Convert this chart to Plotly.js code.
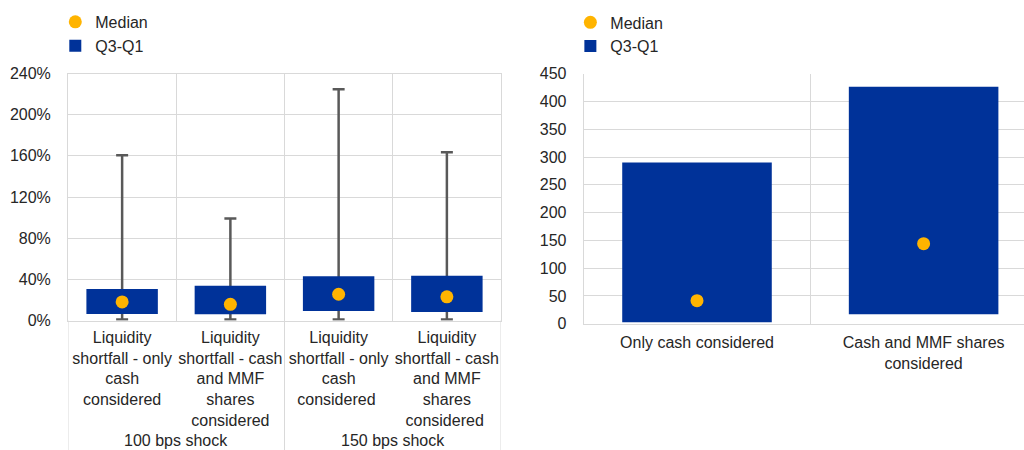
<!DOCTYPE html>
<html>
<head>
<meta charset="utf-8">
<script src="https://cdn.plot.ly/plotly-3.0.1.min.js"></script>
<style>html,body{margin:0;padding:0;background:#fff;}#chart{width:1024px;height:450px;}</style>
</head>
<body>
<div id="chart"></div>
<script>
// ---- Left chart data (percent) ----
var shockGroups = ['100 bps shock', '100 bps shock', '150 bps shock', '150 bps shock'];
var measureLabels = [
  'Liquidity<br>shortfall - only<br>cash<br>considered',
  'Liquidity<br>shortfall - cash<br>and MMF<br>shares<br>considered',
  'Liquidity<br>shortfall - only<br>cash<br>considered ',
  'Liquidity<br>shortfall - cash<br>and MMF<br>shares<br>considered '
];
var leftQ1 = [6.3, 6.0, 9.2, 8.3];
var leftQ3 = [30.6, 33.8, 43.0, 43.5];
var leftMedian = [18.0, 15.7, 25.5, 23.0];
var leftMin = [1.0, 1.0, 1.0, 1.0];
var leftMax = [160.5, 99.0, 224.6, 163.4];

// ---- Right chart data ----
var rightCategories = ['Only cash considered', 'Cash and MMF shares<br>considered'];
var rightQ1 = [2.5, 17.0];
var rightQ3 = [290.0, 426.6];
var rightMedian = [41.4, 144.0];

var BLUE = '#003299';
var ORANGE = '#FFB400';
var GRID = '#d9d9d9';
var FONT = 'Liberation Sans, Arial, sans-serif';
var TXT = '#262626';

var LEFT_BOTTOM = 1 - 320.5 / 450;

function diff(a, b) { return a.map(function (v, i) { return v - b[i]; }); }

// group spans from the group array
var groupSpans = [];
shockGroups.forEach(function (g, i) {
  var last = groupSpans[groupSpans.length - 1];
  if (last && last.name === g) { last.end = i; }
  else { groupSpans.push({name: g, start: i, end: i}); }
});

var annotations = groupSpans.map(function (s) {
  return {text: s.name, xref: 'x', yref: 'paper', x: (s.start + s.end) / 2, y: 0,
          xanchor: 'center', yanchor: 'bottom', showarrow: false, borderpad: 0,
          font: {size: 16, color: TXT, family: FONT}};
});

var dividerPos = [groupSpans[0].start - 0.5].concat(groupSpans.map(function (s) { return s.end + 0.5; }));
var shapes = dividerPos.map(function (p) {
  return {type: 'line', xref: 'x', yref: 'paper', x0: p, x1: p, y0: 0, y1: LEFT_BOTTOM,
          line: {color: GRID, width: 1}};
});

var traces = [
  // whiskers (transparent bar + error bars)
  {
    type: 'bar', x: measureLabels, y: leftMin, xaxis: 'x', yaxis: 'y',
    marker: {color: 'rgba(0,0,0,0)'}, width: 0.66, showlegend: false, hoverinfo: 'skip',
    error_y: {type: 'data', symmetric: false, array: diff(leftMax, leftMin),
              arrayminus: leftMin.map(function () { return 0; }),
              color: '#595959', thickness: 2.5, width: 6}
  },
  {
    type: 'bar', name: 'Q3-Q1', x: measureLabels, y: diff(leftQ3, leftQ1), base: leftQ1,
    xaxis: 'x', yaxis: 'y', marker: {color: BLUE}, width: 0.66,
    legend: 'legend', legendrank: 2
  },
  {
    type: 'scatter', mode: 'markers', name: 'Median', x: measureLabels, y: leftMedian,
    xaxis: 'x', yaxis: 'y', marker: {color: ORANGE, size: 13},
    legend: 'legend', legendrank: 1
  },
  {
    type: 'bar', name: 'Q3-Q1', x: rightCategories, y: diff(rightQ3, rightQ1), base: rightQ1,
    xaxis: 'x2', yaxis: 'y2', marker: {color: BLUE}, width: 0.66,
    legend: 'legend2', legendrank: 2
  },
  {
    type: 'scatter', mode: 'markers', name: 'Median', x: rightCategories, y: rightMedian,
    xaxis: 'x2', yaxis: 'y2', marker: {color: ORANGE, size: 13},
    legend: 'legend2', legendrank: 1
  }
];

var layout = {
  width: 1024, height: 450,
  margin: {l: 0, r: 0, t: 0, b: 0},
  paper_bgcolor: '#fff', plot_bgcolor: '#fff',
  font: {family: FONT, size: 16, color: TXT},
  barmode: 'overlay',
  showlegend: true,
  annotations: annotations,
  shapes: shapes,
  legend: {x: 0.054, y: 0.989, xanchor: 'left', yanchor: 'top', bgcolor: 'rgba(0,0,0,0)',
           font: {size: 16, color: TXT}, traceorder: 'normal'},
  legend2: {x: 0.557, y: 0.988, xanchor: 'left', yanchor: 'top', bgcolor: 'rgba(0,0,0,0)',
            font: {size: 16, color: TXT}, traceorder: 'normal'},
  xaxis: {
    domain: [68 / 1024, 501 / 1024], anchor: 'y', type: 'category',
    range: [-0.5, measureLabels.length - 0.5],
    tickson: 'boundaries', showgrid: true, gridcolor: GRID, gridwidth: 1,
    showline: true, linecolor: GRID, mirror: true, ticks: '',
    ticklabelstandoff: 2,
    tickfont: {size: 16, color: TXT}, tickangle: 0
  },
  yaxis: {
    domain: [LEFT_BOTTOM, 1 - 73.5 / 450], anchor: 'x',
    range: [0, 240], dtick: 40, ticksuffix: '%', showgrid: true, gridcolor: GRID,
    zeroline: false, showline: true, linecolor: GRID, mirror: true, ticks: '',
    ticklabelstandoff: 13, tickfont: {size: 16, color: TXT}
  },
  xaxis2: {
    domain: [583.7 / 1024, 1], anchor: 'y2', type: 'category',
    range: [-0.5, 1.443], tickson: 'boundaries', showgrid: true, gridcolor: GRID,
    showline: true, linecolor: GRID, ticks: '', ticklabelstandoff: 4,
    tickfont: {size: 16, color: TXT}, tickangle: 0
  },
  yaxis2: {
    domain: [1 - 323.7 / 450, 1 - 73.7 / 450], anchor: 'x2',
    range: [0, 450], dtick: 50, showgrid: true, gridcolor: GRID,
    zeroline: false, showline: true, linecolor: GRID, ticks: '',
    ticklabelstandoff: 13, tickfont: {size: 16, color: TXT}
  }
};

Plotly.newPlot('chart', traces, layout, {staticPlot: true, displayModeBar: false});
</script>
</body>
</html>
